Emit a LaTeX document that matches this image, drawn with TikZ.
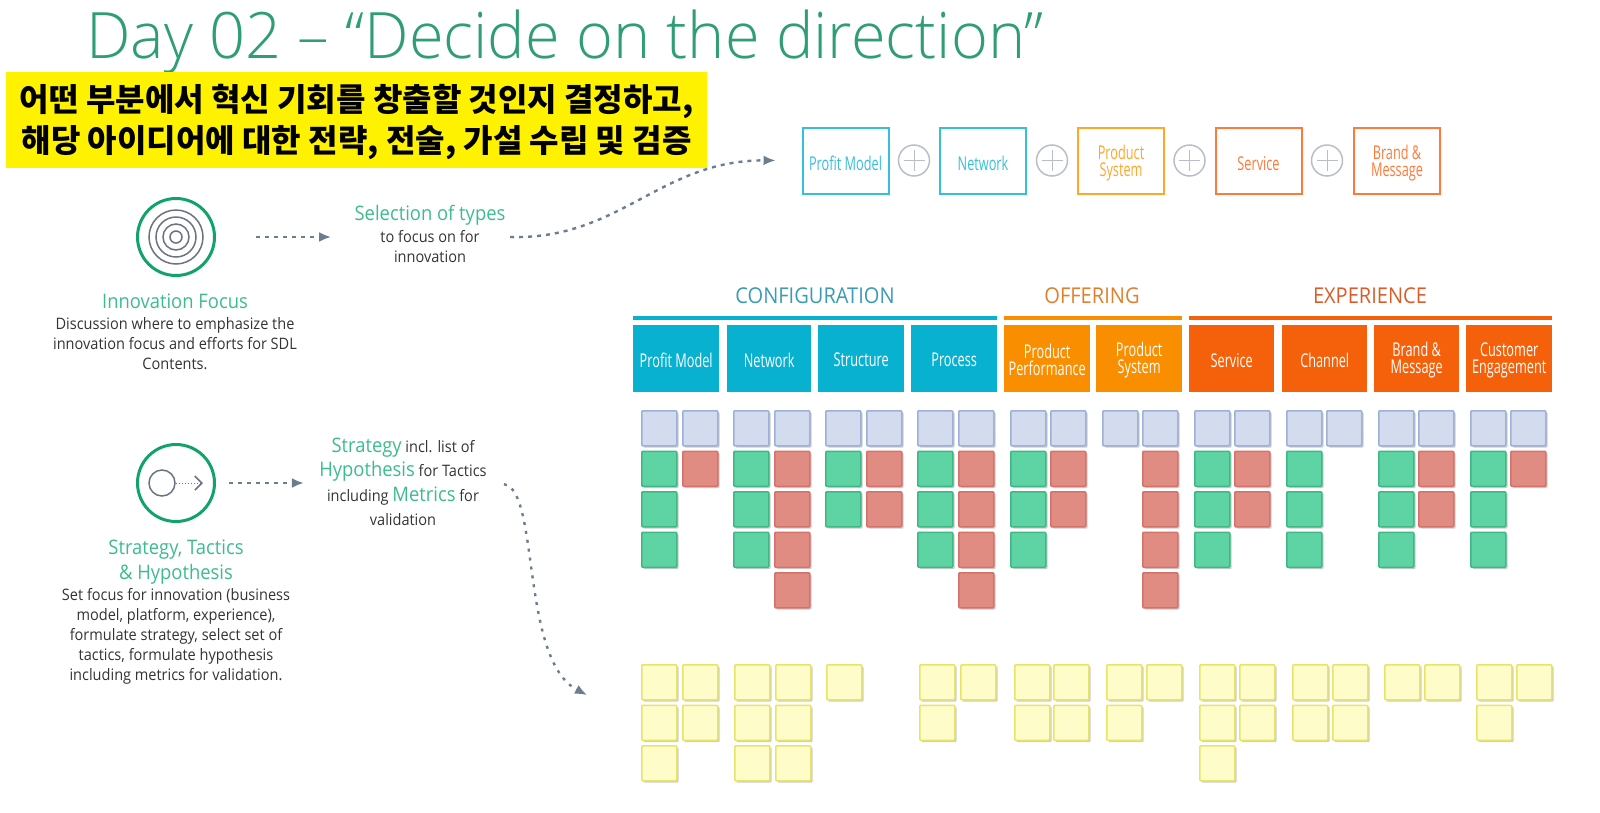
\documentclass[tikz,border=0pt]{standalone}
\usepackage{fontspec}
\usepackage{xcolor}
\usepackage{tikz}
\usetikzlibrary{positioning, arrows.meta, calc, shadows}
\setmainfont{Open Sans}
\newfontfamily\narrowfont[FakeStretch=0.92]{Open Sans}
\newfontfamily\condfont[FakeStretch=0.67]{Open Sans}
\newfontfamily\titlefont[UprightFont=* Light, FakeStretch=0.985]{Open Sans}
\newfontfamily\koreanfont{Noto Sans CJK KR}
\definecolor{titlegreen}{HTML}{2F9E74}
\definecolor{labelgreen}{HTML}{3DBB8F}
\definecolor{ringgreen}{HTML}{12A36A}
\definecolor{bodygray}{HTML}{333333}
\definecolor{ringgray}{HTML}{6B7280}
\definecolor{flowgray}{HTML}{6C7D8F}
\definecolor{plusgray}{HTML}{B9BEC6}
\definecolor{configblue}{HTML}{08B1CF}
\definecolor{offerorange}{HTML}{F88E00}
\definecolor{experorange}{HTML}{F5610A}
\definecolor{configtext}{HTML}{3A9BB5}
\definecolor{offertext}{HTML}{E07F2E}
\definecolor{expertext}{HTML}{DB5B2B}
\definecolor{chosenblue}{HTML}{35BFD8}
\definecolor{chosenamber}{HTML}{FFA62B}
\definecolor{chosenred}{HTML}{FF7A3A}
\definecolor{cardblue}{HTML}{D3DBEE}
\definecolor{edgeblue}{HTML}{9DB0DA}
\definecolor{cardgreen}{HTML}{5ED3A3}
\definecolor{edgegreen}{HTML}{3FB886}
\definecolor{cardred}{HTML}{E08C82}
\definecolor{edgered}{HTML}{D4726B}
\definecolor{cardyellow}{HTML}{FEFCC8}
\definecolor{edgeyellow}{HTML}{E8E46A}
\tikzset{
  card/.style={anchor=north west, minimum width=35pt, minimum height=35pt, inner sep=0pt, rounded corners=1pt, line width=1.5pt, drop shadow={shadow xshift=1.8pt, shadow yshift=-1.8pt, opacity=0.4}},
  bluecard/.style={card, fill=cardblue, draw=edgeblue},
  greencard/.style={card, fill=cardgreen, draw=edgegreen},
  redcard/.style={card, fill=cardred, draw=edgered},
  yellowcard/.style={card, fill=cardyellow, draw=edgeyellow},
  headbox/.style 2 args={anchor=north west, minimum width=#1, minimum height=67pt, inner sep=0pt, label={[text=white, align=center, yshift=-1.5pt, font=\condfont\fontsize{19}{17}\selectfont]center:{#2}}},
  chosenbox/.style 2 args={minimum width=86pt, minimum height=66pt, inner sep=0pt, draw=#1, line width=2pt, label={[text=#1, align=center, yshift=-3pt, font=\condfont\fontsize{19}{17}\selectfont]center:{#2}}},
  plusnode/.style={circle, draw=plusgray, line width=1.5pt, minimum size=31pt, inner sep=0pt, path picture={\draw[plusgray, line width=1pt] ($(path picture bounding box.north)+(0,-5pt)$) -- ($(path picture bounding box.south)+(0,5pt)$); \draw[plusgray, line width=1pt] ($(path picture bounding box.west)+(5pt,0)$) -- ($(path picture bounding box.east)+(-5pt,0)$);}},
  sectionlabel/.style={font=\narrowfont\fontsize{21.8}{22}\selectfont},
  greenlabel/.style={text=labelgreen, align=center, font=\narrowfont\fontsize{20}{25}\selectfont},
  bodytext/.style={text=bodygray, align=center, font=\narrowfont\fontsize{15.8}{20}\selectfont},
  flow/.style={flowgray, line width=2.4pt, dash pattern=on 4pt off 5pt, -{Latex[length=12pt, width=10pt]}},
  iconring/.style={circle, draw=ringgreen, line width=3pt, minimum size=77pt, inner sep=0pt}
}
\begin{document}
\begin{tikzpicture}[x=1pt, y=-1pt]
  \useasboundingbox (0,0) rectangle (1600,812);

  \node[anchor=base west, inner sep=0pt, text=titlegreen, font=\titlefont\fontsize{64}{64}\selectfont] (title) at (86,58) {Day 02 – “Decide on the direction”};
  \node[anchor=north west, fill=yellow, minimum width=701pt, minimum height=96pt, inner sep=0pt, label={[align=center, yshift=-2pt, font=\koreanfont\bfseries\fontsize{32}{41}\selectfont]center:{어떤 부분에서 혁신 기회를 창출할 것인지 결정하고,\\해당 아이디어에 대한 전략, 전술, 가설 수립 및 검증}}] (banner) at (6,72) {};

  \node[iconring] (focusicon) at (176,237) {};
  \foreach \ringsize in {54,40,26,12}
    \draw[ringgray, line width=1.5pt] (focusicon.center) circle[radius=\ringsize/2];
  \node[greenlabel] (focuslabel) at (175,301) {Innovation Focus};
  \node[bodytext, below=2pt of focuslabel] (focustext) {Discussion where to emphasize the\\innovation focus and efforts for SDL\\Contents.};

  \node[greenlabel] (selectlabel) at (430,215) {Selection of types};
  \node[bodytext, below=-2pt of selectlabel] (selecttext) {to focus on for\\innovation};

  \node[iconring] (strategyicon) at (176,483) {};
  \node[circle, draw=ringgray, line width=1.5pt, minimum size=26pt, inner sep=0pt] (strategydot) at (162,483) {};
  \coordinate (strategytip) at (203,483);
  \draw[ringgray, line width=1pt, dotted, -{Straight Barb[length=7pt, width=14pt, line width=1.6pt]}] (strategydot) -- (strategytip);
  \node[greenlabel] (strategylabel) at (176,562) {Strategy, Tactics\\\& Hypothesis};
  \node[bodytext, below=-3pt of strategylabel] (strategytext) {Set focus for innovation (business\\model, platform, experience),\\formulate strategy, select set of\\tactics, formulate hypothesis\\including metrics for validation.};

  \node[bodytext, font=\narrowfont\fontsize{15.8}{24.5}\selectfont] (hypothesistext) at (403,482) {\textcolor{labelgreen}{\fontsize{20}{20}\selectfont Strategy} incl. list of\\\textcolor{labelgreen}{\fontsize{20}{20}\selectfont Hypothesis} for Tactics\\including \textcolor{labelgreen}{\fontsize{20}{20}\selectfont Metrics} for\\validation};

  \node[chosenbox={chosenblue}{Profit Model}] (chosenprofit) at (845.5,160.5) {};
  \node[chosenbox={chosenblue}{Network}] (chosennetwork) at (983,160.5) {};
  \node[chosenbox={chosenamber}{Product\\System}] (chosenproduct) at (1121,160.5) {};
  \node[chosenbox={chosenred}{Service}] (chosenservice) at (1258.5,160.5) {};
  \node[chosenbox={chosenred}{Brand \&\\Message}] (chosenbrand) at (1397,160.5) {};
  \node[plusnode] (plusa) at (914,160.5) {};
  \node[plusnode] (plusb) at (1052,160.5) {};
  \node[plusnode] (plusc) at (1189.5,160.5) {};
  \node[plusnode] (plusd) at (1327,160.5) {};

  \draw[flow, shorten <=40pt, shorten >=20pt] (focusicon.east) -- (focusicon.east -| selectlabel.west);
  \draw[flow, shorten <=13pt, shorten >=12pt] (strategyicon.east) -- (strategyicon.east -| hypothesistext.west);
  \draw[flow, shorten >=26pt] (selecttext.east |- focusicon.east) ++(27pt,0) .. controls (620,240) and (660,160) .. (chosenprofit.west);
  \coordinate (yellowentry) at (587,695);
  \draw[flow, dash pattern=on 3pt off 6pt, shorten <=14pt] (hypothesistext.east) .. controls (540,490) and (520,660) .. (yellowentry);

  \node[sectionlabel, text=configtext] (configlabel) at (815,296) {CONFIGURATION};
  \node[sectionlabel, text=offertext] (offerlabel) at (1092,296) {OFFERING};
  \node[sectionlabel, text=expertext] (experlabel) at (1370,296) {EXPERIENCE};
  \fill[configblue] (633,316) rectangle (997,320);
  \fill[offerorange] (1004,316) rectangle (1182,320);
  \fill[experorange] (1189,316) rectangle (1552,320);

  \node[headbox={86pt}{Profit Model}, fill=configblue] (profit) at (633,325) {};
  \node[headbox={84pt}{Network}, fill=configblue] (network) at (727,325) {};
  \node[headbox={86pt}{Structure}, fill=configblue] (structure) at (818,325) {};
  \node[headbox={86pt}{Process}, fill=configblue] (process) at (911,325) {};
  \node[headbox={86pt}{Product\\Performance}, fill=offerorange] (performance) at (1004,325) {};
  \node[headbox={86pt}{Product\\System}, fill=offerorange] (system) at (1096,325) {};
  \node[headbox={85pt}{Service}, fill=experorange] (service) at (1189,325) {};
  \node[headbox={85pt}{Channel}, fill=experorange] (channel) at (1282,325) {};
  \node[headbox={85pt}{Brand \&\\Message}, fill=experorange] (brand) at (1374,325) {};
  \node[headbox={86pt}{Customer\\Engagement}, fill=experorange] (customer) at (1466,325) {};

  \foreach \cx in {641,682,733,774,825,866,917,958,1010,1050,1102,1142,1194,1234,1286,1326,1378,1418,1470,1510}
    \node[bluecard] (blue-\cx) at (\cx,410) {};
  \foreach \cx/\rows in {641/{0,1,2},733/{0,1,2},825/{0,1},917/{0,1,2},1010/{0,1,2},1194/{0,1,2},1286/{0,1,2},1378/{0,1,2},1470/{0,1,2}}
    \foreach \r in \rows
      \node[greencard] (green-\cx-\r) at (\cx,{450.5+40.5*\r}) {};
  \foreach \cx/\rows in {682/{0},774/{0,1,2,3},866/{0,1},958/{0,1,2,3},1050/{0,1},1142/{0,1,2,3},1234/{0,1},1418/{0,1},1510/{0}}
    \foreach \r in \rows
      \node[redcard] (red-\cx-\r) at (\cx,{450.5+40.5*\r}) {};
  \foreach \cx/\rows in {641/{0,1,2},682/{0,1},734/{0,1,2},775/{0,1,2},826/{0},919/{0,1},960/{0},1014/{0,1},1053/{0,1},1106/{0,1},1146/{0},1199/{0,1,2},1239/{0,1},1292/{0,1},1332/{0,1},1384/{0},1424/{0},1476/{0,1},1516/{0}}
    \foreach \r in \rows
      \node[yellowcard] (yellow-\cx-\r) at (\cx,{664+40.5*\r}) {};
\end{tikzpicture}
\end{document}
